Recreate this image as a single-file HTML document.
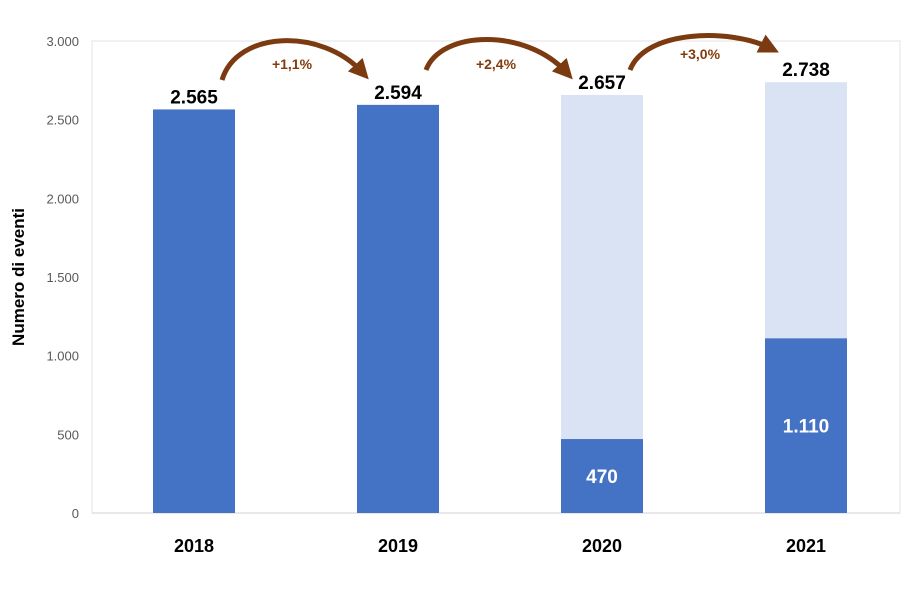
<!DOCTYPE html>
<html><head><meta charset="utf-8"><style>
body{margin:0;background:#fff;width:921px;height:601px;overflow:hidden;font-family:"Liberation Sans",sans-serif}
</style></head><body>
<svg width="921" height="601" id="c" xmlns="http://www.w3.org/2000/svg">
<rect x="92" y="41" width="808" height="472" fill="none" stroke="#e3e3e3" stroke-width="1"/>
<text transform="translate(24,277) rotate(-90)" text-anchor="middle" font-weight="bold" font-size="17" fill="#000">Numero di eventi</text>
<defs><marker id="ah" markerWidth="4" markerHeight="4" refX="2" refY="2" orient="auto"><path d="M0,0 L4,2 L0,4 Z" fill="#7b3a10"/></marker></defs>
</svg>
<script>
const categories=["2018","2019","2020","2021"];
const totals=[2565,2594,2657,2738];
const highlighted=[2565,2594,470,1110];
const totalLabels=["2.565","2.594","2.657","2.738"];
const innerLabels=["","","470","1.110"];
const growthLabels=["+1,1%","+2,4%","+3,0%"];
const yTicks=[0,500,1000,1500,2000,2500,3000];
const yTickLabels=["0","500","1.000","1.500","2.000","2.500","3.000"];
const svg=document.getElementById('c');
const NS="http://www.w3.org/2000/svg";
const y0=513,yTop=41,maxV=3000,xL=92,band=204,bw=82;
const y=v=>y0-v/maxV*(y0-yTop);
const xc=i=>xL+band/2+i*band;
function mk(t,a){const e=document.createElementNS(NS,t);for(const k in a)e.setAttribute(k,a[k]);svg.appendChild(e);return e;}
yTicks.forEach((v,i)=>{const t=mk('text',{x:79,y:y(v)+5,'text-anchor':'end','font-size':13,fill:'#595959'});t.textContent=yTickLabels[i];

});
mk('line',{x1:xL,x2:900,y1:y0,y2:y0,stroke:'#d0d0d0'});
categories.forEach((c,i)=>{
 const b=mk('rect',{x:xc(i)-bw/2,y:y(totals[i]),width:bw,height:y0-y(totals[i]),fill:'#dae3f3'});
 
 
 const h=mk('rect',{x:xc(i)-bw/2,y:y(highlighted[i]),width:bw,height:y0-y(highlighted[i]),fill:'#4472c4'});
 
 
 const tl=mk('text',{x:xc(i),y:y(totals[i])-6,'text-anchor':'middle','font-size':19,'font-weight':'bold',fill:'#000'});tl.textContent=totalLabels[i];
 
 
 if(innerLabels[i]){const il=mk('text',{x:xc(i),y:(y(highlighted[i])+y0)/2+7,'text-anchor':'middle','font-size':19,'font-weight':'bold',fill:'#fff'});il.textContent=innerLabels[i];
 
 }
 const xl=mk('text',{x:xc(i),y:552,'text-anchor':'middle','font-size':18,'font-weight':'bold',fill:'#000'});xl.textContent=c;
 
 
});
growthLabels.forEach((g,i)=>{
 const sx=xc(i)+28,ex=xc(i+1)-36,sy=i==0?80:70,ey=i==2?48:72;
 const p=mk('path',{d:`M${sx},${sy} C${sx+15},${30} ${ex-40},${28} ${ex},${ey}`,fill:'none',stroke:'#7b3a10','stroke-width':5,'marker-end':'url(#ah)'});
 
 
 const t=mk('text',{x:(sx+ex)/2,y:i==2?59:69,'text-anchor':'middle','font-size':14,'font-weight':'bold',fill:'#843c0c'});t.textContent=g;
 
 
});
</script>
</body></html>
